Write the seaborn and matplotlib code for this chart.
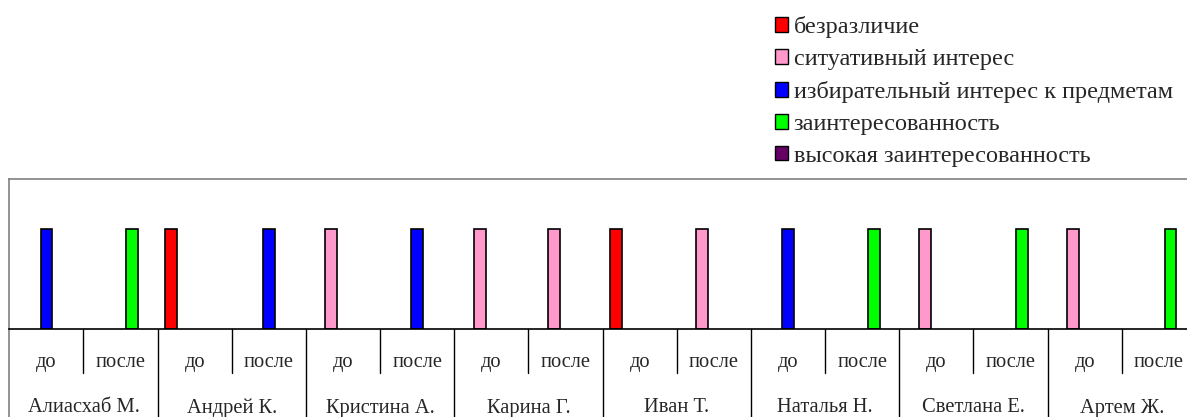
import matplotlib
matplotlib.use("Agg")
import matplotlib.pyplot as plt
import matplotlib.transforms as mtransforms
from matplotlib.patches import Patch
import seaborn as sns
import pandas as pd

# ---- data ----
people = ['Алиасхаб М.', 'Андрей К.', 'Кристина А.', 'Карина Г.',
          'Иван Т.', 'Наталья Н.', 'Светлана Е.', 'Артем Ж.']
stages = ['до', 'после']
levels = ['безразличие', 'ситуативный интерес', 'избирательный интерес к предметам',
          'заинтересованность', 'высокая заинтересованность']
colors = ['#FF0000', '#FF99CC', '#0000FF', '#00FF00', '#660066']
level_before = ['избирательный интерес к предметам', 'безразличие', 'ситуативный интерес',
                'ситуативный интерес', 'безразличие', 'избирательный интерес к предметам',
                'ситуативный интерес', 'ситуативный интерес']
level_after = ['заинтересованность', 'избирательный интерес к предметам',
               'избирательный интерес к предметам', 'ситуативный интерес',
               'ситуативный интерес', 'заинтересованность', 'заинтересованность',
               'заинтересованность']
value = 1

rows = []
cats = []
for p, b, a in zip(people, level_before, level_after):
    for s, lev in zip(stages, [b, a]):
        c = f'{p}|{s}'
        cats.append(c)
        rows.append({'cat': c, 'level': lev, 'value': value})
df = pd.DataFrame(rows)

sns.set_style('white')
plt.rcParams['font.family'] = ['Liberation Serif', 'DejaVu Serif']

W, H = 1187, 417
fig = plt.figure(figsize=(W / 100, H / 100), dpi=100)
ax = fig.add_axes([9.3 / W, (H - 329) / H, (1196 - 9.3) / W, (329 - 179) / H])

sns.barplot(data=df, x='cat', y='value', hue='level', order=cats, hue_order=levels,
            palette=colors, width=0.79, dodge=True, edgecolor='black', linewidth=1.2,
            saturation=1, legend=False, ax=ax, errorbar=None)

ax.set_xlim(-0.5, len(cats) - 0.5)
ax.set_ylim(0, 1.5)
ax.set_xticks([])
ax.set_yticks([])
ax.set_xlabel('')
ax.set_ylabel('')
for side in ['left', 'top', 'right']:
    ax.spines[side].set_color('#808080')
    ax.spines[side].set_linewidth(1.2)
ax.spines['bottom'].set_color('black')
ax.spines['bottom'].set_linewidth(1.2)

# multi-level category axis
tr = mtransforms.blended_transform_factory(ax.transData, fig.transFigure)
def fy(py):
    return (H - py) / H

fs_lab = 14.8
for i, c in enumerate(cats):
    p, s = c.split('|')
    ax.text(i, fy(367), s, transform=tr, ha='center', va='baseline', fontsize=fs_lab,
            clip_on=False)
    if i < len(cats) - 1:
        x = i + 0.5
        if i % 2 == 0:
            ax.plot([x, x], [fy(329), fy(373)], transform=tr, color='black', lw=1.0,
                    clip_on=False)
        else:
            ax.plot([x, x], [fy(329), fy(420)], transform=tr, color='black', lw=1.0,
                    clip_on=False)
for j, p in enumerate(people):
    ax.text(2 * j + 0.5, fy(412.5), p, transform=tr, ha='center', va='baseline',
            fontsize=fs_lab, clip_on=False)
ax.plot([-0.5, -0.5], [fy(329), fy(420)], transform=tr, color='#808080', lw=1.2,
        clip_on=False)

handles = [Patch(facecolor=col, edgecolor='black', linewidth=1.0) for col in colors]
fig.legend(handles, levels, loc='upper left', bbox_to_anchor=(775 / W, 1 - 16 / H),
           frameon=False, fontsize=17.5, handlelength=0.55, handleheight=0.55,
           handletextpad=0.22, labelspacing=0.45, borderpad=0, borderaxespad=0)

fig.savefig('out.png', dpi=100)
